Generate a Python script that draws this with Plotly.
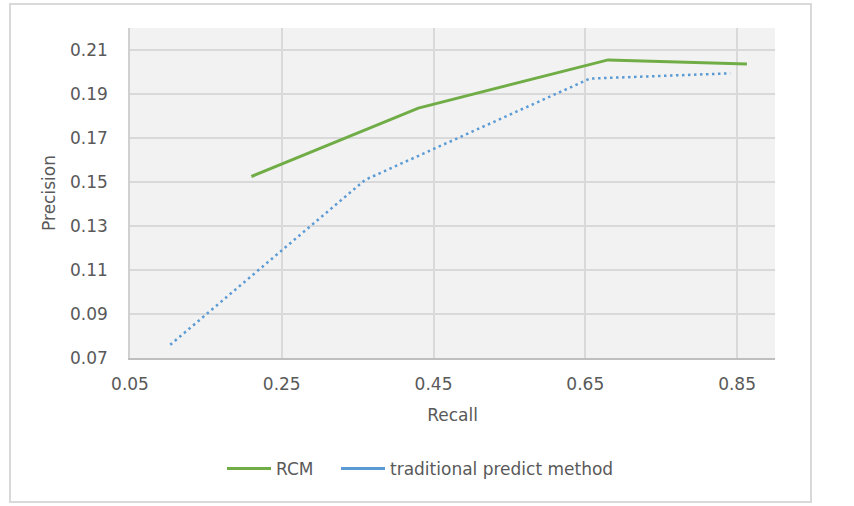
import plotly.graph_objects as go

rcm_recall = [0.21, 0.43, 0.68, 0.863]
rcm_precision = [0.1525, 0.1836, 0.2055, 0.2036]
trad_recall = [0.103, 0.36, 0.656, 0.841]
trad_precision = [0.076, 0.151, 0.197, 0.1994]
x_ticks = [0.05, 0.25, 0.45, 0.65, 0.85]
y_ticks = [0.07, 0.09, 0.11, 0.13, 0.15, 0.17, 0.19, 0.21]

FONT = "DejaVu Sans"
TXT = "#595959"
GREEN = "#70AD47"
BLUE = "#5B9BD5"

fig = go.Figure()
fig.add_trace(go.Scatter(x=rcm_recall, y=rcm_precision, mode="lines", name="RCM",
                         line=dict(color=GREEN, width=3), legend="legend"))
fig.add_trace(go.Scatter(x=trad_recall, y=trad_precision, mode="lines",
                         name="traditional predict method", showlegend=False,
                         line=dict(color=BLUE, width=2.5, dash="2.5px,3.5px")))
# legend key (solid) for the dotted series
fig.add_trace(go.Scatter(x=[None], y=[None], mode="lines",
                         name="traditional predict method",
                         line=dict(color=BLUE, width=3), legend="legend2"))

L, R, T, B = 130, 79, 28, 148
W, H = 854, 506
pw, ph = W - L - R, H - T - B

def px(x):
    return (x - L) / pw

def py(y):
    return (H - B - y) / ph

fig.add_shape(type="rect", xref="paper", yref="paper",
              x0=px(10), x1=px(811), y0=py(502), y1=py(4),
              line=dict(color="#D9D9D9", width=2), fillcolor="rgba(0,0,0,0)", layer="below")

leg_common = dict(orientation="h", yanchor="middle", y=py(469), xanchor="left",
                  font=dict(size=17, color=TXT), itemwidth=44, bgcolor="rgba(0,0,0,0)")

fig.update_layout(
    width=W, height=H,
    margin=dict(l=L, r=R, t=T, b=B, autoexpand=False),
    paper_bgcolor="white", plot_bgcolor="#F2F2F2",
    font=dict(family=FONT, color=TXT, size=17),
    showlegend=True,
    legend=dict(x=px(222), **leg_common),
    legend2=dict(x=px(336), **leg_common),
    xaxis=dict(range=[0.05, 0.9], tickvals=x_ticks, ticktext=[f"{v:.2f}" for v in x_ticks],
               showgrid=True, gridcolor="#D9D9D9", gridwidth=1.5,
               showline=True, linecolor="#BFBFBF", linewidth=1.5, zeroline=False,
               ticks="", ticklabelstandoff=10, automargin=False,
               title=dict(text="Recall", font=dict(size=17, color=TXT), standoff=16)),
    yaxis=dict(range=[0.07, 0.22], tickvals=y_ticks, ticktext=[f"{v:.2f}" for v in y_ticks],
               showgrid=True, gridcolor="#D9D9D9", gridwidth=1.5,
               showline=True, linecolor="#D0D0D0", linewidth=1.5, zeroline=False,
               ticks="", ticklabelstandoff=17, automargin=False,
               title=dict(text="Precision", font=dict(size=17, color=TXT), standoff=10)),
)

fig.write_html("out.html", post_script="document.body.style.margin='0';",
               config={"displayModeBar": False})
